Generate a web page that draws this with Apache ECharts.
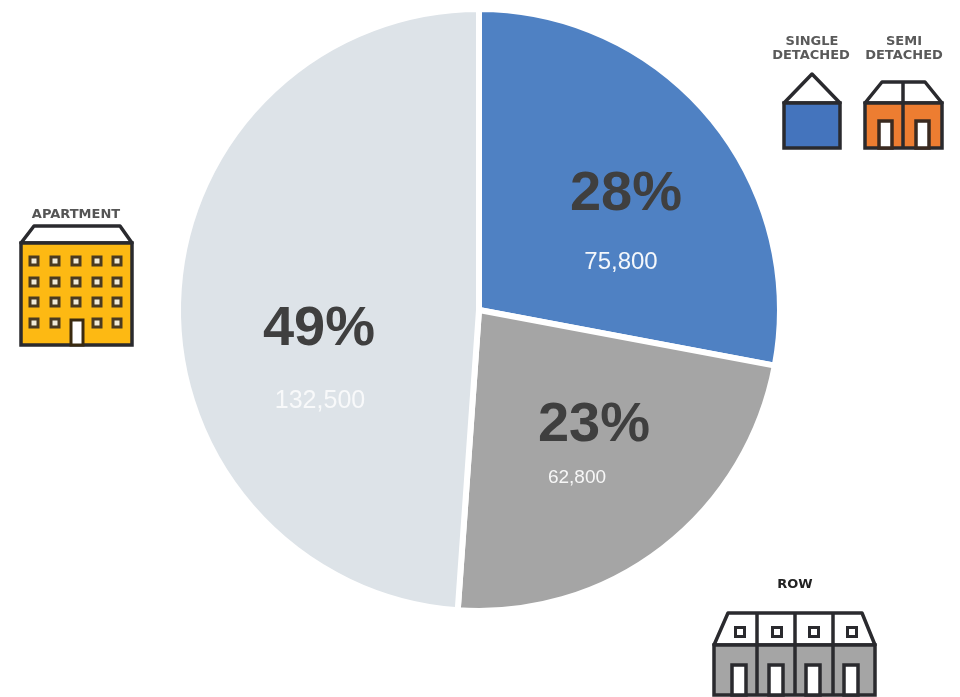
<!DOCTYPE html>
<html><head><meta charset="utf-8">
<style>html,body{margin:0;padding:0;background:#fff}#c{width:960px;height:697px;filter:blur(0.5px)}</style>
<script src="https://cdn.jsdelivr.net/npm/echarts@6/dist/echarts.min.js"></script>
</head><body><div id="c"></div>
<script>
var categories = ['Single Detached + Semi Detached', 'Row', 'Apartment'];
var values = [75800, 62800, 132500];
var sliceColors = ['#4f81c3', '#a5a5a5', '#dde3e8'];
var valueColors = ['#f4f7fb', '#f7f7f7', '#f8f9fa'];
var valueSizes = [24, 19, 25];
var percentSpots = [[626, 195], [594, 426], [319, 330]];
var valueSpots = [[621, 262], [577, 478], [320, 401]];

var INK = '#2a2a2e';
var g = [];
function poly(pts, fill, w) { g.push({type:'polygon', silent:true, shape:{points:pts}, style:{fill:fill||'none', stroke:INK, lineWidth:w||3.5, lineJoin:'round'}}); }
function rect(x,y,w,h,fill,lw,stroke) { g.push({type:'rect', silent:true, shape:{x:x,y:y,width:w,height:h}, style:{fill:fill, stroke:stroke||INK, lineWidth:lw==null?3.5:lw}}); }
function line(x1,y1,x2,y2,w) { g.push({type:'line', silent:true, shape:{x1:x1,y1:y1,x2:x2,y2:y2}, style:{stroke:INK, lineWidth:w||3.5}}); }
function caption(t,x,y,color) { g.push({type:'text', silent:true, style:{text:t, x:x, y:y, align:'center', verticalAlign:'middle', fontFamily:'"DejaVu Sans"', fontWeight:'bold', fontSize:13, fill:color||'#5a5a5a'}}); }

// single detached
caption('SINGLE',812,42); caption('DETACHED',811,56);
poly([[784,103],[812,74],[840,103]],'#fff');
rect(784,103,56,45,'#4474bd');
// semi detached
caption('SEMI',904,42); caption('DETACHED',904,56);
poly([[865,103],[882,82],[925,82],[942,103]],'#fff');
rect(865,103,77,45,'#ed7d31');
line(903,82,903,148);
[879,916].forEach(function(x){ rect(x,121,13,27,'#fff',3.5,'#3a2a20'); });
// apartment
caption('APARTMENT',76,215,'#555');
poly([[21,243],[34,226],[120,226],[132,243]],'#fff');
rect(21,243,111,102,'#fdb913');
[34,55,76,97,117].forEach(function(x,c){
  [261,282,302,323].forEach(function(y,r){
    if (r===3 && c===2) return;
    rect(x-4,y-4,8,8,'#f0ead8',3,'#4a3a20');
  });
});
rect(71,320,12,25,'#fff',3,'#3a2a10');
// row
caption('ROW',795,585,'#222');
poly([[714,645],[728,613],[862,613],[875,645]],'#fff');
rect(714,645,161,50,'#a5a5a5');
[757,795,833].forEach(function(x){ line(x,613,x,695); });
[740,777,814,852].forEach(function(x){ rect(x-4.5,627.5,9,9,'#fff',3); });
[732,769,806,844].forEach(function(x){ rect(x,665,14,30,'#fff',3.5); });

function pieBase() {
  return {type:'pie', center:[479,310], radius:[0,301], startAngle:90, clockwise:true, silent:true, labelLine:{show:false}};
}
var chart = echarts.init(document.getElementById('c'), null, {renderer:'canvas'});
var slices = pieBase();
slices.itemStyle = {borderColor:'#fff', borderWidth:6};
slices.data = categories.map(function(n,i){
  return {name:n, value:values[i], itemStyle:{color:sliceColors[i]},
    label:{show:true, position:'inside', fontFamily:'"Liberation Sans"', fontWeight:'bold', fontSize:56, color:'#3f3f3f',
      formatter:function(p){ return Math.round(p.percent)+'%'; }}};
});
slices.labelLayout = function(p){
  var s = percentSpots[p.dataIndex];
  return {x:s[0], y:s[1], align:'center', verticalAlign:'middle'};
};
var amounts = pieBase();
amounts.itemStyle = {color:'transparent', borderWidth:0};
amounts.data = categories.map(function(n,i){
  return {name:n, value:values[i],
    label:{show:true, position:'inside', fontFamily:'"Liberation Sans"', fontSize:valueSizes[i], color:valueColors[i],
      formatter:function(p){ return p.value.toLocaleString('en-US'); }}};
});
amounts.labelLayout = function(p){
  var s = valueSpots[p.dataIndex];
  return {x:s[0], y:s[1], align:'center', verticalAlign:'middle'};
};
chart.setOption({animation:false, backgroundColor:'#fff', series:[slices, amounts], graphic:{elements:g}});
</script></body></html>
